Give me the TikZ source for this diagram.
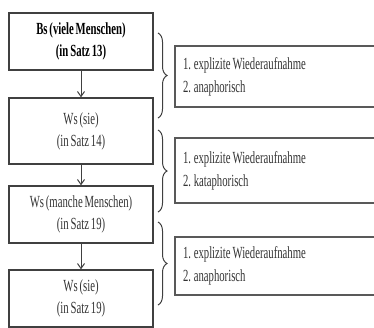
\documentclass[tikz,border=0pt]{standalone}
\usepackage{fontspec}
\setmainfont{Liberation Serif}[FakeStretch=0.63, WordSpace=0.7]
\usetikzlibrary{arrows,arrows.meta,decorations.pathreplacing}

\begin{document}
\begin{tikzpicture}[x=1pt,y=-1pt,
    leftbox/.style={draw=black!75, line width=0.45mm, minimum width=144pt, align=center,
        font=\fontsize{17}{22}\selectfont, text=black!80},
    rightbox/.style={draw=black!65, line width=0.6mm, minimum width=225pt, text width=209pt,
        inner sep=8pt, align=flush left, font=\fontsize{17}{23}\selectfont, text=black!80},
    kante/.style={line width=0.35mm, draw=black!75, -{Straight Barb[length=5pt,width=7pt]}},
    klammer/.style={decorate, decoration={brace, amplitude=9pt}, line width=0.35mm, draw=black!75}]
    \useasboundingbox (0,0) rectangle (374,327);
    \clip (0,0) rectangle (374,327);

    % linke Spalte
    \node[leftbox, minimum height=57pt, text=black] (bs) at (81,41.5) {\textbf{Bs (viele Menschen)}\\\textbf{(in Satz 13)}};
    \node[leftbox, minimum height=66pt] (ws1) at (81,131) {Ws (sie)\\(in Satz 14)};
    \node[leftbox, minimum height=57pt] (ws2) at (81,214.5) {Ws (manche Menschen)\\(in Satz 19)};
    \node[leftbox, minimum height=57pt] (ws3) at (81,298.5) {Ws (sie)\\(in Satz 19)};
    \foreach \a/\b in {bs/ws1, ws1/ws2, ws2/ws3}{
        \draw[kante] (\a) -- (\b);
    }

    % rechte Spalte
    \node[rightbox, minimum height=61pt] (rel1) at (287.5,76.5) {1. explizite Wiederaufnahme\\2. anaphorisch};
    \node[rightbox, minimum height=65pt] (rel2) at (287.5,170.5) {1. explizite Wiederaufnahme\\2. kataphorisch};
    \node[rightbox, minimum height=58pt] (rel3) at (287.5,266) {1. explizite Wiederaufnahme\\2. anaphorisch};

    % Klammern
    \coordinate (k1a) at (158,33);  \coordinate (k1b) at (158,118);
    \coordinate (k2a) at (158,130); \coordinate (k2b) at (158,212);
    \coordinate (k3a) at (158,222); \coordinate (k3b) at (158,305);
    \foreach \k in {1,2,3}{
        \draw[klammer] (k\k a) -- (k\k b);
    }
\end{tikzpicture}
\end{document}
